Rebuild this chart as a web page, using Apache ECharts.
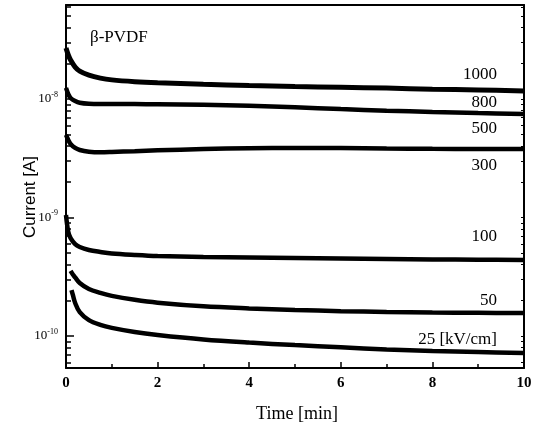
<!DOCTYPE html>
<html><head><meta charset="utf-8">
<script src="https://cdn.jsdelivr.net/npm/echarts@6/dist/echarts.min.js"></script>
<style>html,body{margin:0;padding:0;background:#fff}#c{width:546px;height:425px}</style>
</head><body><div id="c"></div>
<script>
// Time axis samples [min]
const timeCommon = [0, 0.05, 0.1, 0.2, 0.3, 0.5, 0.75, 1, 1.5, 2, 3, 4, 5, 6, 7, 8, 9, 10];
const time50 = [0.1, 0.15, 0.2, 0.3, 0.5, 0.75, 1, 1.5, 2, 3, 4, 5, 6, 7, 8, 9, 10];
const time25 = [0.12, 0.15, 0.2, 0.3, 0.5, 0.75, 1, 1.5, 2, 3, 4, 5, 6, 7, 8, 9, 10];

// Current [A]
const cur1000 = [2.69e-8, 2.35e-8, 2.13e-8, 1.86e-8, 1.72e-8, 1.59e-8, 1.50e-8, 1.45e-8, 1.40e-8, 1.37e-8, 1.33e-8, 1.30e-8, 1.275e-8, 1.255e-8, 1.235e-8, 1.21e-8, 1.19e-8, 1.17e-8];
const cur800 = [1.24e-8, 1.10e-8, 1.02e-8, 9.62e-9, 9.3e-9, 9.1e-9, 9.05e-9, 9.05e-9, 9.05e-9, 9.03e-9, 8.95e-9, 8.75e-9, 8.5e-9, 8.22e-9, 7.97e-9, 7.77e-9, 7.6e-9, 7.47e-9];
const cur500 = [4.97e-9, 4.51e-9, 4.17e-9, 3.86e-9, 3.71e-9, 3.59e-9, 3.55e-9, 3.57e-9, 3.63e-9, 3.69e-9, 3.78e-9, 3.84e-9, 3.86e-9, 3.85e-9, 3.82e-9, 3.80e-9, 3.79e-9, 3.79e-9];
const cur100 = [1.05e-9, 7.54e-10, 6.71e-10, 5.97e-10, 5.64e-10, 5.32e-10, 5.12e-10, 4.97e-10, 4.83e-10, 4.73e-10, 4.64e-10, 4.59e-10, 4.55e-10, 4.51e-10, 4.47e-10, 4.43e-10, 4.40e-10, 4.38e-10];
const cur50 = [3.54e-10, 3.30e-10, 3.12e-10, 2.80e-10, 2.49e-10, 2.31e-10, 2.18e-10, 2.02e-10, 1.91e-10, 1.78e-10, 1.71e-10, 1.66e-10, 1.62e-10, 1.595e-10, 1.58e-10, 1.57e-10, 1.56e-10];
const cur25 = [2.44e-10, 2.22e-10, 1.90e-10, 1.59e-10, 1.36e-10, 1.24e-10, 1.17e-10, 1.08e-10, 1.02e-10, 9.35e-11, 8.8e-11, 8.38e-11, 8.03e-11, 7.7e-11, 7.47e-11, 7.32e-11, 7.19e-11];

// Tick values
const yMajorTicks = [1e-10, 1e-9, 1e-8];
const yMinorMultipliers = [2, 3, 4, 5, 6, 7, 8, 9];
const yDecades = [1e-11, 1e-10, 1e-9, 1e-8];
const xTicks = [0, 2, 4, 6, 8, 10];

// Curve labels
const curveLabels = ['1000', '800', '500', '300', '100', '50', '25 [kV/cm]'];

const yMin = 5.37e-11, yMax = 6.21e-8;
const minorTicks = [];
yDecades.forEach(d => yMinorMultipliers.forEach(m => {
  const v = m * d;
  if (v > yMin && v < yMax) minorTicks.push(v);
}));

const pairs = (t, v) => t.map((x, i) => [x, v[i]]);
const serif = '"Liberation Serif", "DejaVu Serif", serif';

const mkSeries = (t, v, w) => ({
  type: 'line', xAxisIndex: 0, yAxisIndex: 0,
  data: pairs(t, v), showSymbol: false, smooth: 0.35,
  lineStyle: { color: '#000', width: w }, silent: true
});

const labelY = [75, 103, 129, 166, 237, 301, 340];

const yBase = {
  type: 'log', logBase: 10, min: yMin, max: yMax, gridIndex: 0,
  splitLine: { show: false }, minorSplitLine: { show: false }
};

const chart = echarts.init(document.getElementById('c'), null, { renderer: 'canvas' });
chart.setOption({
  animation: false,
  backgroundColor: '#fff',
  grid: { left: 66, right: 22, top: 5, bottom: 57, containLabel: false },
  xAxis: [{
    type: 'value', min: 0, max: 10, interval: 2,
    axisLine: { show: true, lineStyle: { color: '#000', width: 2 } },
    axisTick: { show: true, inside: true, length: 6, lineStyle: { color: '#000', width: 1.5 } },
    minorTick: { show: true, splitNumber: 2, length: 4, lineStyle: { color: '#000', width: 1.5 } },
    axisLabel: { color: '#000', fontFamily: serif, fontWeight: 'bold', fontSize: 15, margin: 8,
      customValues: xTicks },
    splitLine: { show: false }
  }, {
    type: 'value', min: 0, max: 10, position: 'top',
    axisLine: { show: true, lineStyle: { color: '#000', width: 2 } },
    axisTick: { show: false }, axisLabel: { show: false }, splitLine: { show: false }
  }],
  yAxis: [Object.assign({}, yBase, {
    position: 'left',
    axisLine: { show: true, lineStyle: { color: '#000', width: 2 } },
    axisTick: { show: true, inside: true, length: 8, customValues: yMajorTicks, lineStyle: { color: '#000', width: 1.5 } },
    axisLabel: {
      color: '#000', margin: 8, customValues: yMajorTicks,
      formatter: v => '{b|10}{s|' + Math.round(Math.log10(v)) + '}',
      rich: {
        b: { fontFamily: serif, fontSize: 13, color: '#000' },
        s: { fontFamily: serif, fontSize: 8, color: '#000', padding: [0, 0, 9, 0] }
      }
    }
  }), Object.assign({}, yBase, {
    position: 'left',
    axisLine: { show: false },
    axisTick: { show: true, inside: true, length: 5, customValues: minorTicks, lineStyle: { color: '#000', width: 1.5 } },
    axisLabel: { show: false }
  }), Object.assign({}, yBase, {
    position: 'right',
    axisLine: { show: true, lineStyle: { color: '#000', width: 2 } },
    axisTick: { show: true, inside: true, length: 3, customValues: minorTicks.concat(yMajorTicks), lineStyle: { color: '#000', width: 1 } },
    axisLabel: { show: false }
  })],
  series: [
    mkSeries(timeCommon, cur1000, 5),
    mkSeries(timeCommon, cur800, 4.5),
    mkSeries(timeCommon, cur500, 4.5),
    mkSeries(timeCommon, cur100, 4.5),
    mkSeries(time50, cur50, 4.5),
    mkSeries(time25, cur25, 4.5)
  ],
  graphic: [
    { type: 'text', left: 90, top: 29, style: { text: 'β-PVDF', font: '17px ' + serif, fill: '#000' } },
    { type: 'text', x: 297, y: 414, style: { text: 'Time [min]', font: '18px ' + serif, fill: '#000', align: 'center', verticalAlign: 'middle' } },
    { type: 'text', x: 30, y: 197, rotation: Math.PI / 2, style: { text: 'Current [A]', font: '17px "Liberation Sans", Arial, sans-serif', fill: '#000', align: 'center', verticalAlign: 'middle' } }
  ].concat(curveLabels.map((t, i) => ({
    type: 'text', x: 497, y: labelY[i],
    style: { text: t, font: '17px ' + serif, fill: '#000', align: 'right', verticalAlign: 'middle' }
  })))
});
</script>
</body></html>
